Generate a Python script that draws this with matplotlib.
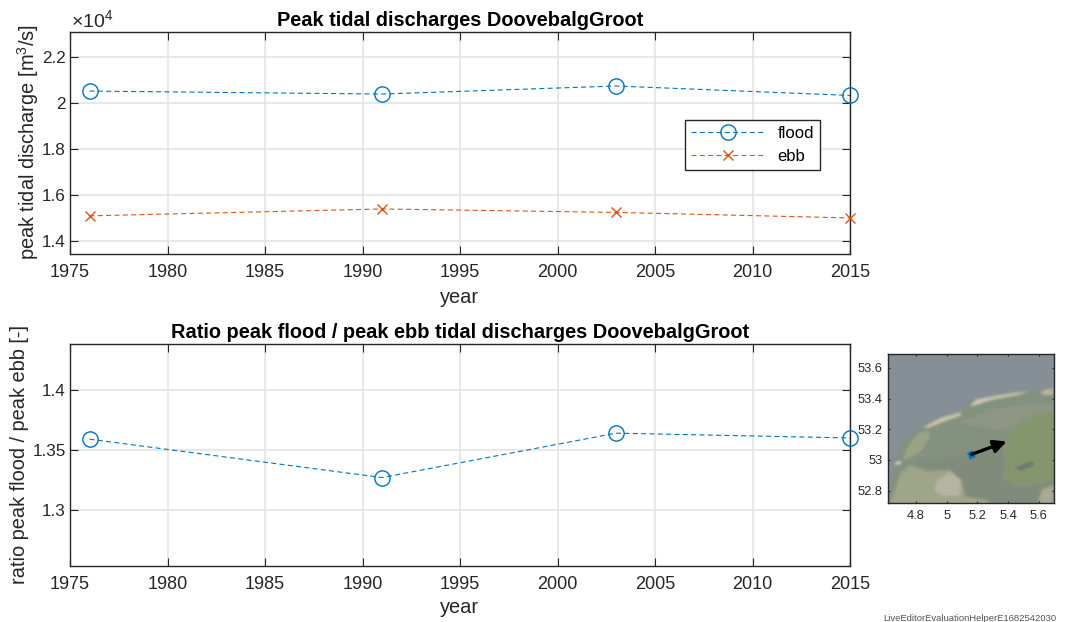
import numpy as np
import matplotlib
matplotlib.use("Agg")
import matplotlib.pyplot as plt
from matplotlib.path import Path
from matplotlib.colors import to_rgb
from matplotlib.ticker import FuncFormatter

plt.rcParams['font.family'] = ['Liberation Sans', 'DejaVu Sans']
plt.rcParams['mathtext.fontset'] = 'custom'
plt.rcParams['mathtext.rm'] = 'Liberation Sans'
plt.rcParams['mathtext.default'] = 'regular'

years = [1976, 1991, 2003, 2015]
flood = [20520, 20390, 20740, 20330]
ebb = [15090, 15390, 15240, 15000]
ratio = [1.359, 1.327, 1.364, 1.360]
xticks = list(range(1975, 2020, 5))
top_yticks = [14000, 16000, 18000, 20000, 22000]
bot_yticks = [1.3, 1.35, 1.4]
map_xticks = [4.8, 5.0, 5.2, 5.4, 5.6]
map_yticks = [52.8, 53.0, 53.2, 53.4, 53.6]

sea_color = '#868f96'
shallow_lon = [4.652, 4.717, 4.848, 5.087, 5.174, 5.478, 5.70, 5.70, 4.630]
shallow_lat = [52.967, 53.130, 53.217, 53.315, 53.391, 53.446, 53.467, 52.715, 52.715]
flats_lon = [5.08, 5.30, 5.52, 5.70, 5.70, 5.52, 5.42, 5.30]
flats_lat = [53.24, 53.33, 53.36, 53.37, 53.33, 53.27, 53.20, 53.20]
ijssel_lon = [4.76, 5.37, 5.36, 5.46, 5.61, 5.70, 5.70, 5.10, 5.02]
ijssel_lat = [52.967, 53.065, 52.88, 52.826, 52.837, 52.87, 52.715, 52.715, 52.935]
fries_lon = [5.70, 5.565, 5.457, 5.402, 5.370, 5.402, 5.359, 5.457, 5.609, 5.70]
fries_lat = [53.326, 53.293, 53.228, 53.141, 53.065, 52.967, 52.880, 52.826, 52.837, 52.870]
nh_lon = [4.630, 4.696, 4.761, 4.870, 5.022, 5.098, 5.120, 5.261, 5.283]
nh_lat = [52.715, 52.913, 52.967, 52.924, 52.935, 52.870, 52.761, 52.739, 52.715]
town_lon = [4.93, 5.02, 5.09, 5.09, 4.98, 4.92]
town_lat = [52.86, 52.92, 52.87, 52.77, 52.76, 52.80]
lake_lon = [5.45, 5.55, 5.58, 5.48]
lake_lat = [52.95, 52.99, 52.97, 52.93]
texel_lon = [4.706, 4.760, 4.815, 4.880, 4.891, 4.837, 4.760]
texel_lat = [53.000, 53.109, 53.179, 53.190, 53.142, 53.065, 53.011]
tip_lon = [4.665, 4.70, 4.70, 4.665]
tip_lat = [52.985, 52.99, 52.975, 52.97]
vlie_lon = [4.848, 4.957, 5.087, 5.098, 4.978, 4.870]
vlie_lat = [53.213, 53.272, 53.309, 53.293, 53.250, 53.207]
ters_lon = [5.152, 5.196, 5.348, 5.543, 5.468, 5.294, 5.174]
ters_lat = [53.352, 53.396, 53.424, 53.450, 53.425, 53.392, 53.353]
ameland_lon = [5.609, 5.696, 5.696, 5.630]
ameland_lat = [53.446, 53.472, 53.424, 53.424]
flevo_lon = [5.598, 5.620, 5.696, 5.696]
flevo_lat = [52.715, 52.804, 52.837, 52.715]
transect_lon = [5.152, 5.170]
transect_lat = [53.054, 53.011]
arrow_lon = [5.163, 5.391]
arrow_lat = [53.037, 53.120]
map_layers = [
    (shallow_lon, shallow_lat, '#84917f'),
    (flats_lon, flats_lat, '#8f9784'),
    (ijssel_lon, ijssel_lat, '#808b7c'),
    (fries_lon, fries_lat, '#85966f'),
    (lake_lon, lake_lat, '#6f756c'),
    (nh_lon, nh_lat, '#9fa588'),
    (town_lon, town_lat, '#b5b5a2'),
    (texel_lon, texel_lat, '#9ca286'),
    (tip_lon, tip_lat, '#e8e4d4'),
    (vlie_lon, vlie_lat, '#cec9ae'),
    (ters_lon, ters_lat, '#cbc7af'),
    (ameland_lon, ameland_lat, '#b5b79c'),
    (flevo_lon, flevo_lat, '#a8ab92'),
]
map_extent = (4.617, 5.70, 52.72, 53.69)

W, H = 1077, 622
fig = plt.figure(figsize=(W / 100, H / 100), dpi=100)


def px_axes(x0, y0, x1, y1):
    return fig.add_axes([x0 / W, 1 - y1 / H, (x1 - x0) / W, (y1 - y0) / H])


BLUE, RED, DARK = '#0072BD', '#D95319', '#262626'
GRID = '#e4e4e4'
DASH = (0, (4.5, 3))


def style(ax, size=13, length=5.8):
    for s in ax.spines.values():
        s.set_color(DARK)
        s.set_linewidth(1.0)
    ax.tick_params(direction='in', top=True, right=True, length=length, width=0.8,
                   color=DARK, labelcolor=DARK, labelsize=size, pad=7)


ax1 = px_axes(70, 32, 850, 254)
ax1.plot(years, flood, color=BLUE, ls=DASH, marker='o', lw=0.8, ms=11, mfc='none', mew=1.0, label='flood', clip_on=False, zorder=5)
ax1.plot(years, ebb, color=RED, ls=DASH, marker='x', lw=0.8, ms=7.5, mew=1.0, label='ebb', clip_on=False, zorder=5)
ax1.set_xlim(1975, 2015)
ax1.set_ylim(13430, 23090)
ax1.set_xticks(xticks)
ax1.set_yticks(top_yticks)
ax1.yaxis.set_major_formatter(FuncFormatter(lambda v, p: f'{v / 1e4:g}'))
ax1.grid(True, color=GRID, lw=1.2)
ax1.set_axisbelow(True)
style(ax1)
ax1.tick_params(axis='y', pad=3, labelsize=12.3)
ax1.set_xlabel('year', fontsize=14.4, color=DARK, labelpad=5)
ax1.set_ylabel('peak tidal discharge [m$^3$/s]', fontsize=14.4, color=DARK, labelpad=0.5, y=0.505)
ax1.set_title('Peak tidal discharges DoovebalgGroot', fontsize=14.4, fontweight='bold', color='black', pad=4)
fig.text(71 / W, 1 - 31 / H, r'$\times10^4$', fontsize=14, color=DARK, ha='left', va='bottom')
leg = ax1.legend(loc='upper left', bbox_to_anchor=((685 - 70) / 780, 1 - (120 - 32) / 222), borderaxespad=0,
                 fontsize=12, fancybox=False, framealpha=1, edgecolor=DARK, handlelength=4.5,
                 borderpad=0.35, labelspacing=0.5, handletextpad=0.7, labelcolor='black')
leg.get_frame().set_linewidth(1.0)

ax2 = px_axes(70, 344, 850, 566)
ax2.plot(years, ratio, color=BLUE, ls=DASH, marker='o', lw=0.8, ms=11, mfc='none', mew=1.0, clip_on=False, zorder=5)
ax2.set_xlim(1975, 2015)
ax2.set_ylim(1.2533, 1.4383)
ax2.set_xticks(xticks)
ax2.set_yticks(bot_yticks)
ax2.yaxis.set_major_formatter(FuncFormatter(lambda v, p: f'{v:g}'))
ax2.grid(True, color=GRID, lw=1.2)
ax2.set_axisbelow(True)
style(ax2)
ax2.tick_params(axis='y', pad=3, labelsize=12.3)
ax2.set_xlabel('year', fontsize=14.4, color=DARK, labelpad=3.5)
ax2.set_ylabel('ratio peak flood / peak ebb [-]', fontsize=14.4, color=DARK, labelpad=2.6)
ax2.set_title('Ratio peak flood / peak ebb tidal discharges DoovebalgGroot', fontsize=14.4, fontweight='bold',
              color='black', pad=4)

ax3 = px_axes(888, 354, 1054, 503)
nx, ny = 332, 298
gx = np.linspace(map_extent[0], map_extent[1], nx)
gy = np.linspace(map_extent[3], map_extent[2], ny)
pts = np.column_stack([a.ravel() for a in np.meshgrid(gx, gy)])
img = np.ones((ny, nx, 3)) * np.array(to_rgb(sea_color))
for lons, lats, col in map_layers:
    mask = Path(np.column_stack([lons, lats])).contains_points(pts).reshape(ny, nx)
    img[mask] = to_rgb(col)
for _ in range(3):
    for axis in (0, 1):
        pad = [(0, 0)] * 3
        pad[axis] = (2, 2)
        padded = np.pad(img, pad, mode='edge')
        img = np.apply_along_axis(lambda r: np.convolve(r, np.ones(5) / 5, mode='valid'), axis, padded)
ax3.imshow(img, extent=map_extent, aspect='auto', interpolation='bilinear', zorder=0)
ax3.plot(transect_lon, transect_lat, color=BLUE, lw=4.5, solid_capstyle='butt', zorder=3)
ax3.annotate('', xy=(arrow_lon[1], arrow_lat[1]), xytext=(arrow_lon[0], arrow_lat[0]),
             arrowprops=dict(arrowstyle='-|>', color='black', lw=2.4, mutation_scale=19, shrinkA=0, shrinkB=0), zorder=4)
ax3.set_xlim(map_extent[0], map_extent[1])
ax3.set_ylim(map_extent[2], map_extent[3])
ax3.set_xticks(map_xticks)
ax3.set_yticks(map_yticks)
ax3.xaxis.set_major_formatter(FuncFormatter(lambda v, p: f'{v:g}'))
ax3.yaxis.set_major_formatter(FuncFormatter(lambda v, p: f'{v:g}'))
style(ax3, size=9.3, length=1.5)
ax3.tick_params(pad=5)
ax3.tick_params(axis='y', pad=4)

fig.text(883 / W, 1 - 623 / H, 'LiveEditorEvaluationHelperE1682542030', fontsize=6.8, color='#555555',
         ha='left', va='bottom')

fig.savefig('out.png', dpi=100)
